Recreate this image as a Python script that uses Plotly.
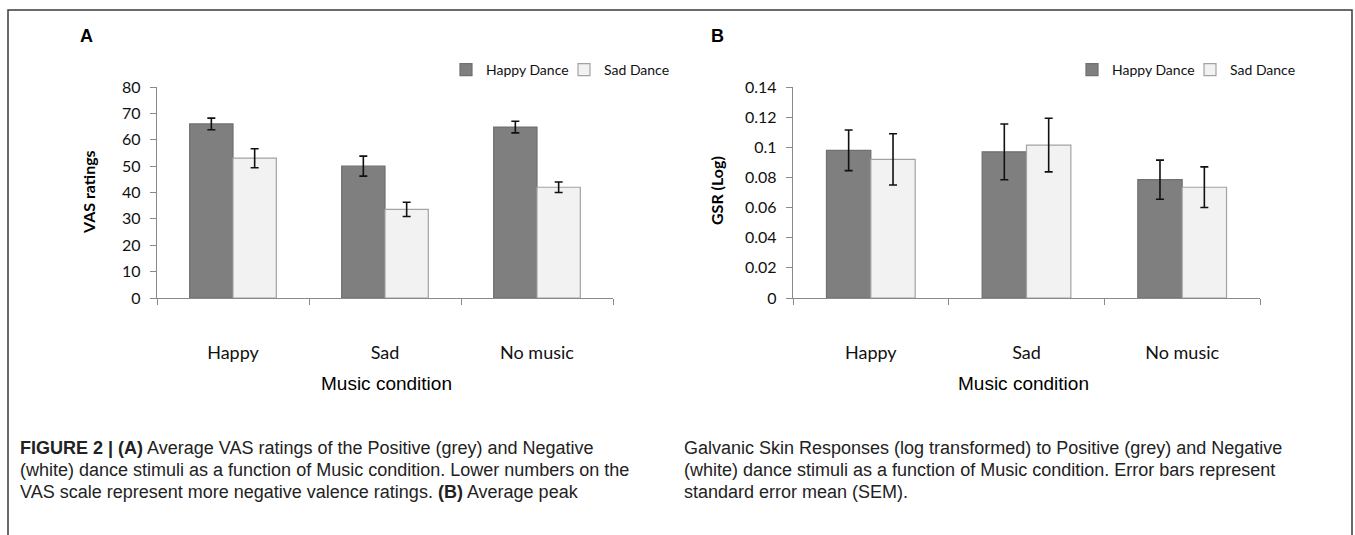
import plotly.graph_objects as go

W, H = 1355, 535

# ---- data ----
categories = ["Happy", "Sad", "No music"]
series_names = ["Happy Dance", "Sad Dance"]

vas_happy = [66.0, 50.0, 64.8]
vas_happy_err = [2.2, 3.8, 2.2]
vas_sad = [53.0, 33.6, 42.0]
vas_sad_err = [3.6, 2.7, 2.0]

gsr_happy = [0.098, 0.097, 0.0785]
gsr_happy_err = [0.0135, 0.0185, 0.013]
gsr_sad = [0.092, 0.1015, 0.0735]
gsr_sad_err = [0.017, 0.0178, 0.0135]

vas_ticks = [0, 10, 20, 30, 40, 50, 60, 70, 80]
vas_ticktext = ["0", "10", "20", "30", "40", "50", "60", "70", "80"]
gsr_ticks = [0, 0.02, 0.04, 0.06, 0.08, 0.1, 0.12, 0.14]
gsr_ticktext = ["0", "0.02", "0.04", "0.06", "0.08", "0.1", "0.12", "0.14"]

caption_left = ["<b>FIGURE 2 | (A)</b> Average VAS ratings of the Positive (grey) and Negative",
                "(white) dance stimuli as a function of Music condition. Lower numbers on the",
                "VAS scale represent more negative valence ratings. <b>(B)</b> Average peak"]
caption_right = ["Galvanic Skin Responses (log transformed) to Positive (grey) and Negative",
                 "(white) dance stimuli as a function of Music condition. Error bars represent",
                 "standard error mean (SEM)."]

# ---- style ----
DARK = "#7f7f7f"
DARK_LINE = "#707070"
LIGHT = "#f2f2f2"
LIGHT_LINE = "#a3a3a3"
AXIS = "#8a8a8a"
CHART_FONT = "Lato"
CAP_FONT = "Liberation Sans"


def px(x):
    return x / W


def py(y):
    return 1 - y / H


fig = go.Figure()

panels = [
    dict(x="x", y="y", legend="legend", vals=(vas_happy, vas_sad), errs=(vas_happy_err, vas_sad_err)),
    dict(x="x2", y="y2", legend="legend2", vals=(gsr_happy, gsr_sad), errs=(gsr_happy_err, gsr_sad_err)),
]
for p in panels:
    for i, (name, col, lc) in enumerate(zip(series_names, [DARK, LIGHT], [DARK_LINE, LIGHT_LINE])):
        fig.add_trace(go.Bar(
            x=categories, y=p["vals"][i], name=name,
            xaxis=p["x"], yaxis=p["y"], legend=p["legend"],
            marker=dict(color=col, line=dict(color=lc, width=1.2)),
            error_y=dict(type="data", array=p["errs"][i], visible=True,
                         color="#111111", thickness=1.6, width=4),
        ))

axis_common = dict(showgrid=False, zeroline=False, showline=True, linecolor=AXIS, linewidth=1.3,
                   ticks="outside", tickcolor=AXIS, ticklen=6, tickwidth=1.3, automargin=False)
yfont = dict(family=CHART_FONT, size=16, color="#111")
xfont = dict(family=CHART_FONT, size=18, color="#111")

leg_common = dict(orientation="h", xanchor="left", yanchor="middle",
                  font=dict(family=CHART_FONT, size=14, color="#111"), bgcolor="rgba(0,0,0,0)",
                  itemwidth=30, tracegroupgap=0, entrywidth=73, entrywidthmode="pixels")

fig.update_layout(
    width=W, height=H, autosize=False,
    margin=dict(l=0, r=0, t=0, b=0, pad=0, autoexpand=False),
    paper_bgcolor="white", plot_bgcolor="white",
    barmode="group", bargap=0.43, bargroupgap=0.0,
    xaxis=dict(domain=[px(157), px(613)], anchor="y", tickson="boundaries",
               ticklabelstandoff=38, tickfont=xfont, **axis_common),
    yaxis=dict(domain=[py(298), py(87)], anchor="x", range=[0, 80],
               tickvals=vas_ticks, ticktext=vas_ticktext, ticklabelstandoff=6, tickfont=yfont, **axis_common),
    xaxis2=dict(domain=[px(793), px(1260)], anchor="y2", tickson="boundaries",
                ticklabelstandoff=38, tickfont=xfont, **axis_common),
    yaxis2=dict(domain=[py(298), py(87)], anchor="x2", range=[0, 0.14],
                tickvals=gsr_ticks, ticktext=gsr_ticktext, ticklabelstandoff=6, tickfont=yfont, **axis_common),
    legend=dict(x=px(446), y=py(70), **leg_common),
    legend2=dict(x=px(1072), y=py(70), **leg_common),
    showlegend=True,
)

# frame
fig.add_shape(type="rect", xref="paper", yref="paper",
              x0=px(8), x1=px(1352), y0=-0.05, y1=py(10),
              line=dict(color="#3a3a3a", width=1.5), fillcolor="rgba(0,0,0,0)")


def note(text, x, y, size, family, xanchor="center", angle=0, color="#000"):
    fig.add_annotation(text=text, x=px(x), y=py(y), xref="paper", yref="paper", showarrow=False,
                       xanchor=xanchor, yanchor="middle", align="left", textangle=angle,
                       font=dict(family=family, size=size, color=color))


# panel letters
note("<b>A</b>", 86, 36, 18, "Liberation Sans")
note("<b>B</b>", 717, 36, 18, "Liberation Sans")

# axis titles
note("<b>VAS ratings</b>", 89, 192, 16, CHART_FONT, angle=-90)
note("<b>GSR (Log)</b>", 716, 190, 16, CHART_FONT, angle=-90)
note("Music condition", 386, 383, 19, CAP_FONT)
note("Music condition", 1023, 383, 19, CAP_FONT)

# caption
line_y = [448, 470, 492]
for lines, xx in [(caption_left, 18), (caption_right, 682)]:
    for txt, yy in zip(lines, line_y):
        note(txt, xx, yy, 18, CAP_FONT, xanchor="left", color="#222")

fig.write_html("out.html", config={"displayModeBar": False},
               post_script="document.body.style.margin='0';document.body.style.overflow='hidden';")
